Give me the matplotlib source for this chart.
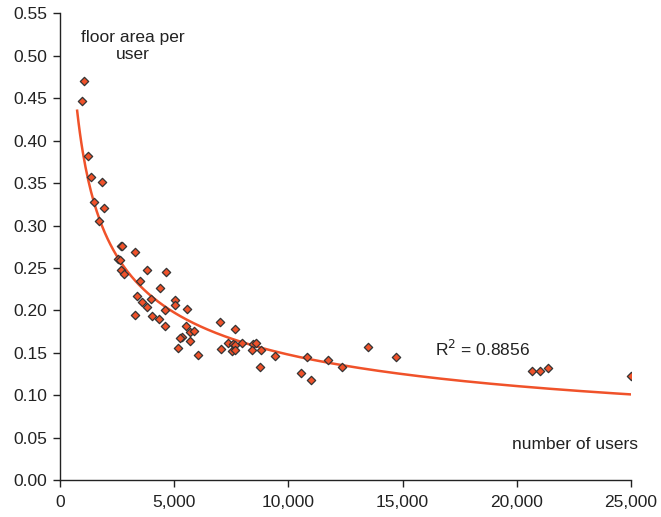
import numpy as np
import matplotlib
matplotlib.use('Agg')
import matplotlib.pyplot as plt
from matplotlib.ticker import FuncFormatter

plt.rcParams['font.family'] = ['Liberation Sans', 'DejaVu Sans']

# number of users vs floor area per user
users = [1033, 945, 1208, 1353, 1837, 1485, 1942, 1692, 2658, 2715,
         3286, 2540, 2645, 2671, 2821, 3787, 4622, 3506, 4372, 3392,
         3963, 3594, 5031, 5031, 3787, 5571, 4578, 3273, 4033, 4328,
         4591, 7000, 5527, 7645, 5677, 5879, 5325, 5264, 5703, 5149,
         6028, 7052, 7373, 7522, 7566, 7667, 7667, 7961, 8458, 8576,
         8427, 8796, 8735, 9394, 10536, 10993, 10830, 11722, 12355, 13467,
         14710, 20659, 21011, 21362, 25022]
area = [0.470, 0.447, 0.382, 0.357, 0.351, 0.328, 0.321, 0.305, 0.276, 0.276,
        0.269, 0.260, 0.259, 0.247, 0.243, 0.248, 0.245, 0.235, 0.226, 0.217,
        0.213, 0.210, 0.212, 0.206, 0.204, 0.201, 0.200, 0.194, 0.193, 0.190,
        0.181, 0.186, 0.181, 0.178, 0.175, 0.176, 0.169, 0.167, 0.164, 0.156,
        0.147, 0.155, 0.161, 0.152, 0.160, 0.159, 0.153, 0.161, 0.160, 0.162,
        0.153, 0.153, 0.133, 0.146, 0.126, 0.118, 0.145, 0.142, 0.133, 0.157,
        0.145, 0.129, 0.129, 0.132, 0.123]

x = np.array(users, dtype=float)
y = np.array(area)

# power trendline (log-log least squares, like Excel)
b, lna = np.polyfit(np.log(x), np.log(y), 1)
xf = np.linspace(750, 25000, 400)
yf = np.exp(lna) * xf ** b

RED = '#f0522a'
FS = 12.5

fig = plt.figure(figsize=(6.61, 5.17), dpi=100)
ax = fig.add_axes([0.0908, 0.0716, 0.8638, 0.9024])

ax.plot(xf, yf, color=RED, lw=1.8, zorder=2)
ax.scatter(x, y, marker='D', s=18, facecolor=RED, edgecolor='#333333',
           linewidths=0.9, zorder=3)

ax.set_xlim(0, 25000)
ax.set_ylim(0, 0.55)
ax.set_xticks(np.arange(0, 25001, 5000))
ax.set_yticks(np.arange(0, 0.551, 0.05))
ax.xaxis.set_major_formatter(FuncFormatter(lambda v, p: f'{int(v):,}'))
ax.yaxis.set_major_formatter(FuncFormatter(lambda v, p: f'{v:.2f}'))

for s in ['top', 'right']:
    ax.spines[s].set_visible(False)
for s in ['left', 'bottom']:
    ax.spines[s].set_linewidth(1.0)
    ax.spines[s].set_color('#222222')
ax.tick_params(direction='out', length=5, width=1.0, colors='#222222',
               labelsize=FS, labelcolor='#222222')
ax.tick_params(axis='x', pad=6)
ax.tick_params(axis='y', pad=4)

ax.text(0.128, 0.965, 'floor area per\nuser', transform=ax.transAxes,
        ha='center', va='top', fontsize=FS, color='#222222', linespacing=1.15)
ax.text(1.013, 0.077, 'number of users', transform=ax.transAxes,
        ha='right', va='center', fontsize=FS, color='#222222')
ax.text(0.656, 0.280, 'R$^2$ = 0.8856', transform=ax.transAxes,
        ha='left', va='center', fontsize=FS, color='#222222')

fig.savefig('out.png', dpi=100)
